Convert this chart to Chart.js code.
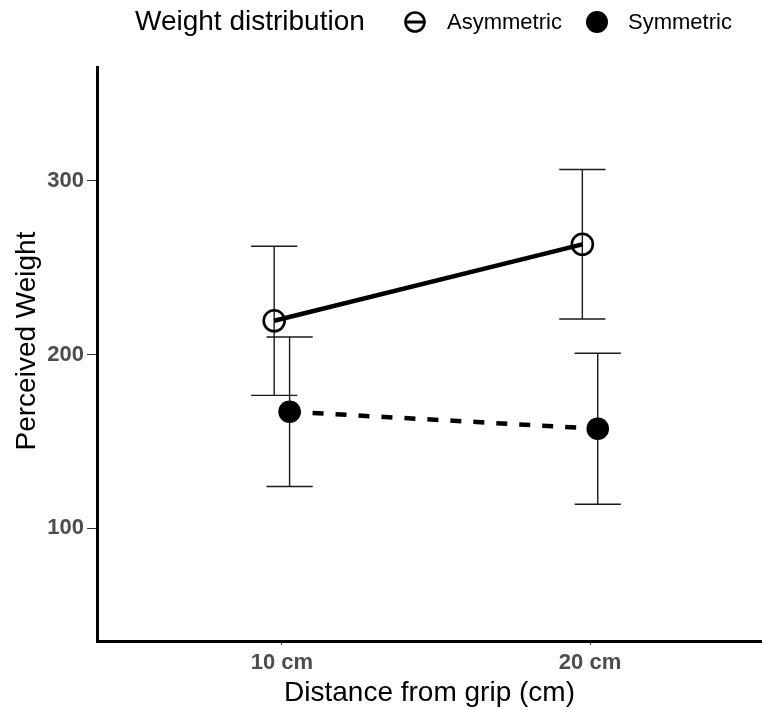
<!DOCTYPE html>
<html>
<head>
<meta charset="utf-8">
<script src="https://cdn.jsdelivr.net/npm/chart.js@4/dist/chart.umd.min.js"></script>
<style>
  html, body { margin: 0; padding: 0; background: #fff; }
  #wrap { width: 762px; height: 710px; }
</style>
</head>
<body>
<div id="wrap"><canvas id="c" width="762" height="710"></canvas></div>
<script>
// Perceived weight by grip distance and weight distribution (mean ± error)
const distances = ['10 cm', '20 cm'];
const groups = ['Asymmetric', 'Symmetric'];
const asymmetricMean = [219.4, 263.4];
const asymmetricErr = [42.9, 43.0];
const symmetricMean = [167.1, 157.3];
const symmetricErr = [43.0, 43.4];
const yTicks = [100, 200, 300];

const FONT = "'Liberation Sans', Arial, sans-serif";
const DODGE = 0.025;      // horizontal offset of each group from its category
const CAP_HALF = 0.075;   // half-width of the error bar caps (x units)

function toPoints(means, offset) {
  return means.map((m, i) => ({ x: i + 1 + offset, y: m }));
}

const errs = [asymmetricErr, symmetricErr];

const errorBars = {
  id: 'errorBars',
  beforeDatasetsDraw(chart) {
    const { ctx, scales: { x, y } } = chart;
    ctx.save();
    ctx.strokeStyle = '#1a1a1a';
    ctx.lineWidth = 1.4;
    chart.data.datasets.forEach((ds, di) => {
      ds.data.forEach((p, i) => {
        const e = errs[di][i];
        const px = x.getPixelForValue(p.x);
        const x0 = x.getPixelForValue(p.x - CAP_HALF);
        const x1 = x.getPixelForValue(p.x + CAP_HALF);
        const yt = y.getPixelForValue(p.y + e);
        const yb = y.getPixelForValue(p.y - e);
        ctx.beginPath();
        ctx.moveTo(px, yt); ctx.lineTo(px, yb);
        ctx.moveTo(x0, yt); ctx.lineTo(x1, yt);
        ctx.moveTo(x0, yb); ctx.lineTo(x1, yb);
        ctx.stroke();
      });
    });
    ctx.restore();
  }
};

// Inline legend along the top, plus the vertical axis title
const annotations = {
  id: 'annotations',
  afterDraw(chart) {
    const { ctx } = chart;
    const cy = 22;
    ctx.save();
    ctx.fillStyle = '#000';
    ctx.textBaseline = 'middle';
    ctx.font = `28px ${FONT}`;
    ctx.fillText('Weight distribution', 135, cy);

    // Asymmetric key: open circle with solid line through it
    ctx.strokeStyle = '#000';
    ctx.lineWidth = 2.6;
    ctx.beginPath();
    ctx.arc(415, cy, 9.5, 0, Math.PI * 2);
    ctx.stroke();
    ctx.lineWidth = 3;
    ctx.beginPath();
    ctx.moveTo(406, cy); ctx.lineTo(424, cy);
    ctx.stroke();
    ctx.font = `22px ${FONT}`;
    ctx.fillText(chart.data.datasets[0].label, 447, cy + 1);

    // Symmetric key: filled circle
    ctx.beginPath();
    ctx.arc(597, cy, 11, 0, Math.PI * 2);
    ctx.fill();
    ctx.fillText(chart.data.datasets[1].label, 628, cy + 1);

    // y axis title
    ctx.translate(27, 341);
    ctx.rotate(-Math.PI / 2);
    ctx.textAlign = 'center';
    ctx.font = `28px ${FONT}`;
    ctx.fillText('Perceived Weight', 0, 0);
    ctx.restore();
  }
};

new Chart(document.getElementById('c'), {
  type: 'line',
  data: {
    datasets: [
      {
        label: groups[0],
        data: toPoints(asymmetricMean, -DODGE),
        borderColor: '#000',
        borderWidth: 4.5,
        pointRadius: 10.5,
        pointBorderWidth: 2.6,
        pointBorderColor: '#000',
        pointBackgroundColor: 'rgba(0,0,0,0)',
        fill: false
      },
      {
        label: groups[1],
        data: toPoints(symmetricMean, DODGE),
        borderColor: '#000',
        borderWidth: 4.5,
        borderDash: [11, 12],
        pointRadius: 11.3,
        pointBorderWidth: 0,
        pointBackgroundColor: '#000',
        fill: false
      }
    ]
  },
  options: {
    responsive: false,
    animation: false,
    layout: { autoPadding: false, padding: { top: 67, right: 0, left: 0, bottom: 0 } },
    plugins: {
      legend: { display: false },
      tooltip: { enabled: false }
    },
    scales: {
      x: {
        type: 'linear',
        min: 0.4,
        max: 2.558,
        afterBuildTicks: s => { s.ticks = distances.map((_, i) => ({ value: i + 1 })); },
        afterFit: s => { s.height = 69; },
        ticks: {
          callback: v => distances[v - 1],
          color: '#4d4d4d',
          font: { family: FONT, size: 22, weight: 'bold' },
          padding: 5,
          maxRotation: 0
        },
        grid: { drawOnChartArea: false, tickLength: 4, tickColor: '#333', tickWidth: 1 },
        border: { display: true, color: '#000', width: 3 },
        title: {
          display: true,
          text: 'Distance from grip (cm)',
          color: '#000',
          font: { family: FONT, size: 28 },
          padding: { top: 0, bottom: 0 }
        }
      },
      y: {
        min: 35.2,
        max: 365.4,
        afterBuildTicks: s => { s.ticks = yTicks.map(v => ({ value: v })); },
        afterFit: s => { s.width = 97; },
        ticks: {
          color: '#4d4d4d',
          font: { family: FONT, size: 22, weight: 'bold' },
          padding: 3
        },
        grid: { drawOnChartArea: false, tickLength: 10, tickColor: '#333', tickWidth: 1 },
        border: { display: true, color: '#000', width: 3 }
      }
    }
  },
  plugins: [errorBars, annotations]
});
</script>
</body>
</html>
